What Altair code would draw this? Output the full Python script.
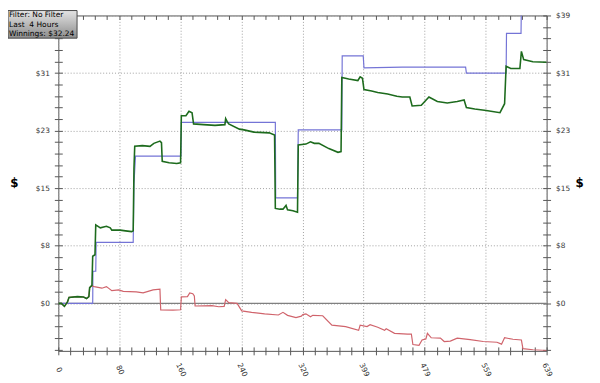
import altair as alt
import pandas as pd

# ---------------- data ----------------
green_hand = [0,4,8,12,14,25,33,37,40,41,44,45,48,49,55,63,68,70,81,88,96,98,99,100,110,120,125,133,135,136,145,155,160,161,167,171,175,177,190,205,218,219,221,223,237,243,256,276,283,284,290,294,298,300,307,313,314,324,330,335,341,354,366,370,371,380,392,395,398,400,410,418,431,443,450,460,463,475,485,496,509,522,531,534,545,560,578,584,586,592,604,606,609,621,639]
green_value = [0,0,-0.4,0.2,0.8,0.9,0.85,0.65,0.9,2.1,2.4,6.3,6.5,10.5,10.1,10.3,10.1,9.8,9.8,9.7,9.6,9.7,18,21.0,21.1,21.0,21.4,21.7,21.5,19.0,18.8,18.7,18.8,25.1,25.1,25.7,25.5,24.0,23.9,23.8,23.9,24.7,24.3,24.0,23.3,23.2,22.9,22.8,22.5,12.7,12.6,12.6,13.1,12.5,12.4,12.2,21.2,21.3,21.6,21.4,21.4,20.7,20.2,20.3,30.2,30.0,29.8,30.3,30.1,28.6,28.4,28.2,28.0,27.7,27.6,27.6,26.4,26.5,27.6,27.0,26.8,27.0,27.2,26.2,26.0,25.8,25.5,26.7,31.7,31.4,31.4,33.7,32.6,32.3,32.24]

blue_hand = [0,45,45.3,49,49.5,98,99,101,160.5,161,284,284.5,313,314,371,371.5,399,400,450,533,534,586,586.5,605.5,606,639]
blue_value = [0,0,4.3,4.3,8.15,8.15,16,19.7,19.7,24.2,24.2,14.1,14.1,23.2,23.2,33.1,33.1,31.5,31.6,31.6,30.8,30.8,36.1,36.1,40,40]

red_hand = [0,4,8,12,14,25,33,37,40,41,44,45,47,57,63,70,79,85,102,111,124,133,134,150,160,161,169,172,176,178,179,201,210,217,219,223,234,240,253,270,288,294,300,311,318,320,324,330,333,346,358,376,393,395,404,408,418,427,429,440,457,462,464,472,476,481,483,488,500,505,513,522,539,556,574,580,584,595,606,608,621,639]
red_value = [0,0,-0.4,0.2,0.8,0.9,0.85,0.65,0.9,2.1,2.4,2.3,2.24,2.03,2.24,1.7,1.8,1.6,1.55,1.4,1.8,1.9,-0.86,-0.9,-0.85,0.87,0.9,1.4,1.3,1.0,-0.35,-0.3,-0.45,-0.4,0.5,0.1,0,-1.0,-1.2,-1.4,-1.55,-1.2,-1.6,-1.9,-1.7,-1.5,-1.4,-1.8,-1.6,-1.65,-2.9,-3.1,-3.6,-2.9,-3.1,-2.85,-3.2,-3.6,-3.4,-4.0,-4.1,-4.1,-5.5,-5.6,-4.9,-4.75,-4.0,-4.6,-4.65,-5.1,-5.05,-4.65,-4.85,-5.1,-5.2,-5.45,-4.6,-4.8,-4.9,-6.05,-6.2,-6.3]

x_major = [0, 79.875, 159.75, 239.625, 319.5, 399.375, 479.25, 559.125, 639]
x_major_labels = ["0", "80", "160", "240", "320", "399", "479", "559", "639"]
x_minor = [round(k * 15.975, 4) for k in range(41)]

y_major = [0, 7.7, 15.4, 23.1, 30.8, 38.5]
y_major_labels = ["$0", "$8", "$15", "$23", "$31", "$39"]
# on the left side the top label is hidden behind the info box in the reference
y_left_labels = ["$0", "$8", "$15", "$23", "$31", ""]
y_minor = [round(k * 1.54, 4) for k in range(-4, 26)]

info_lines = ["Filter: No Filter", "Last \u00a04 Hours", "Winnings: $32.24"]

x_domain = [0, 639]
y_domain = [-6.35, 38.5]

W, H = 495, 340

# ---------------- helpers ----------------
def arr(vals):
    return "[" + ",".join(repr(v) for v in vals) + "]"

def label_expr(major, labels):
    a = arr(major)
    lab = "[" + ",".join("'" + s + "'" for s in labels) + "]"
    return f"indexof({a}, datum.value) >= 0 ? {lab}[indexof({a}, datum.value)] : ''"

def grid_cond(major):
    return {"condition": {"test": f"indexof({arr(major)}, datum.value) >= 0", "value": 1}, "value": 0}

xs = alt.Scale(domain=x_domain, nice=False, zero=False)
ys = alt.Scale(domain=y_domain, nice=False, zero=False)

tick_common = dict(tickColor="#555555", tickWidth=1, tickSize=4, domain=False,
                   labelFont="DejaVu Sans", labelFontSize=7.5, labelColor="#333333")

def inward(orient, values):
    return alt.Axis(orient=orient, offset=-4, values=values, labels=False, grid=False,
                    title=None, **tick_common)

title_common = dict(titleFont="DejaVu Sans", titleFontSize=12, titleFontWeight="bold",
                    titleColor="#000000", titleAngle=0, titleAlign="center",
                    titleBaseline="middle")

x_main = alt.Axis(orient="bottom", values=x_minor, labelExpr=label_expr(x_major, x_major_labels),
                  labelAngle=65, labelAlign="center", labelBaseline="middle", labelPadding=15,
                  labelOverlap=False, grid=True, gridOpacity=grid_cond(x_major),
                  gridColor="#a0a0a0", gridDash=[1, 2], gridWidth=1, title=None, **tick_common)

y_left = alt.Axis(orient="left", values=y_minor, labelExpr=label_expr(y_major, y_left_labels),
                  labelPadding=5, labelOverlap=False, grid=True, gridOpacity=grid_cond(y_major),
                  gridColor="#a0a0a0", gridDash=[1, 2], gridWidth=1, title="$",
                  titleX=-45, titleY=169, **title_common, **tick_common)

y_right = alt.Axis(orient="right", values=y_minor, labelExpr=label_expr(y_major, y_major_labels),
                   labelPadding=5, labelOverlap=False, grid=False, title="$",
                   titleX=33, titleY=169, **title_common, **tick_common)

green_df = pd.DataFrame({"hand": green_hand, "value": green_value})
blue_df = pd.DataFrame({"hand": blue_hand, "value": blue_value})
red_df = pd.DataFrame({"hand": red_hand, "value": red_value})
zero_df = pd.DataFrame({"value": [0]})
info_df = pd.DataFrame({"t": ["\n".join(info_lines)]})

zero = alt.Chart(zero_df).mark_rule(color="#808080", strokeWidth=1.5).encode(
    y=alt.Y("value:Q", scale=ys, axis=inward("right", y_minor))
)

blue = alt.Chart(blue_df).mark_line(color="#7474d6", strokeWidth=1.2, clip=True).encode(
    x=alt.X("hand:Q", scale=xs, axis=inward("bottom", x_minor)),
    y=alt.Y("value:Q", scale=ys, axis=inward("left", y_minor)),
)

red = alt.Chart(red_df).mark_line(color="#d0646c", strokeWidth=1.2, clip=True).encode(
    x=alt.X("hand:Q", scale=xs, axis=inward("top", x_minor)),
    y=alt.Y("value:Q", scale=ys, axis=y_right),
)

green = alt.Chart(green_df).mark_line(color="#1d6b1d", strokeWidth=1.6, clip=True).encode(
    x=alt.X("hand:Q", scale=xs, axis=x_main),
    y=alt.Y("value:Q", scale=ys, axis=y_left),
)

box = alt.Chart(info_df).mark_rect(
    fill=alt.LinearGradient(gradient="linear", x1=0, y1=0, x2=0, y2=1,
                            stops=[alt.GradientStop(color="#e4e4e4", offset=0),
                                   alt.GradientStop(color="#8c8c8c", offset=1)]),
    stroke="#4a4a4a", strokeWidth=1,
).encode(x=alt.value(-51), x2=alt.value(19), y=alt.value(-5), y2=alt.value(23))

info = alt.Chart(info_df).mark_text(
    align="left", baseline="top", font="DejaVu Sans", fontSize=7.6, color="#000000",
    lineBreak="\n", lineHeight=9.3,
).encode(x=alt.value(-50), y=alt.value(-4), text="t:N")

chart = alt.layer(zero, blue, red, green, box, info).resolve_axis(
    x="independent", y="independent"
).properties(
    width=W, height=H,
    autosize=alt.AutoSizeParams(type="none"),
    padding={"left": 51, "top": 5, "right": 46, "bottom": 30},
    background="#ffffff",
).configure_view(stroke="#555555", strokeWidth=1)

chart.save("out.html", embed_options={"renderer": "svg", "actions": False})
